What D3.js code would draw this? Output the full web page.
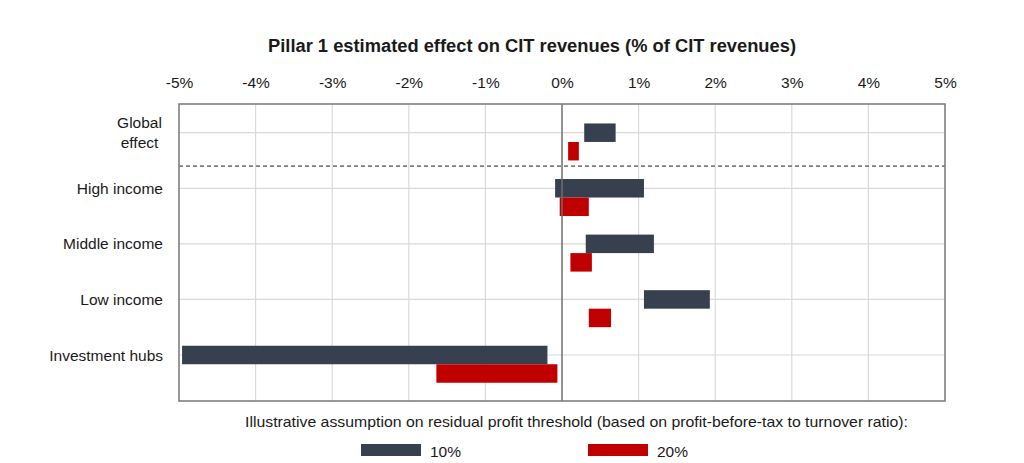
<!DOCTYPE html>
<html><head><meta charset="utf-8">
<script src="https://cdn.jsdelivr.net/npm/d3@7"></script>
<style>body{margin:0;background:#fff}svg{display:block}text{font-family:"Liberation Sans",Arial,sans-serif;fill:#1a1a1a}</style>
</head><body><svg id="c" width="1024" height="463"></svg>
<script>
const categories = ["Global effect","High income","Middle income","Low income","Investment hubs"];
const series10Start = [0.29, -0.09, 0.31, 1.07, -4.96];
const series10End   = [0.70, 1.07, 1.20, 1.93, -0.19];
const series20Start = [0.08, -0.03, 0.11, 0.35, -1.64];
const series20End   = [0.22, 0.35, 0.39, 0.64, -0.06];
const tickValues = [-5,-4,-3,-2,-1,0,1,2,3,4,5];
const seriesNames = ["10%","20%"];
const colors = ["#36404F","#C00000"];
const title = "Pillar 1 estimated effect on CIT revenues (% of CIT revenues)";
const legendTitle = "Illustrative  assumption on residual profit threshold (based on profit-before-tax to turnover ratio):";

const svg = d3.select("#c");
const L=179, R=945, T=104, B=401;
const x = d3.scaleLinear().domain([-5,5]).range([L,R]);
const y = d3.scalePoint().domain(categories).range([132.7,355]);
const bh = 18.5;

// grid
svg.append("g").selectAll("line").data(tickValues.filter(v=>v>-5&&v<5&&v!==0)).join("line")
  .attr("x1",d=>x(d)).attr("x2",d=>x(d)).attr("y1",T).attr("y2",B)
  .attr("stroke","#d9d9d9").attr("stroke-width",1.2);
svg.append("g").selectAll("line").data(categories).join("line")
  .attr("x1",L).attr("x2",R).attr("y1",d=>y(d)).attr("y2",d=>y(d))
  .attr("stroke","#d9d9d9").attr("stroke-width",1.2);

// top axis labels
const ax = d3.axisTop(x).tickValues(tickValues).tickSize(0).tickPadding(0).tickFormat(d=>d+"%");
const axg = svg.append("g").attr("transform",`translate(0,88)`).call(ax);
axg.select(".domain").remove();
axg.selectAll("text").attr("font-size",15.5).attr("font-family","Liberation Sans, Arial, sans-serif").attr("fill","#1a1a1a").attr("dy",0);

// bars
const d10 = categories.map((c,i)=>({c,a:series10Start[i],b:series10End[i]}));
const d20 = categories.map((c,i)=>({c,a:series20Start[i],b:series20End[i]}));
svg.append("g").selectAll("rect").data(d10).join("rect")
  .attr("x",d=>x(Math.min(d.a,d.b))).attr("width",d=>Math.abs(x(d.b)-x(d.a)))
  .attr("y",d=>y(d.c)-bh/2).attr("height",bh).attr("fill",colors[0]);
svg.append("g").selectAll("rect").data(d20).join("rect")
  .attr("x",d=>x(Math.min(d.a,d.b))).attr("width",d=>Math.abs(x(d.b)-x(d.a)))
  .attr("y",d=>y(d.c)+bh/2).attr("height",bh).attr("fill",colors[1]);

// zero line
svg.append("line").attr("x1",x(0)).attr("x2",x(0)).attr("y1",T).attr("y2",B)
  .attr("stroke","#6e6e6e").attr("stroke-width",1.5);
// dashed separator
const dashY = y(categories[0]) + y.step()*0.6;
svg.append("line").attr("x1",L).attr("x2",R).attr("y1",dashY).attr("y2",dashY)
  .attr("stroke","#7f7f7f").attr("stroke-width",1.8).attr("stroke-dasharray","4,3");
// border
svg.append("rect").attr("x",L).attr("y",T).attr("width",R-L).attr("height",B-T)
  .attr("fill","none").attr("stroke","#7f7f7f").attr("stroke-width",1.6);

// category labels
const lab = svg.append("g");
categories.forEach(c=>{
  if(c==="Global effect"){
    lab.append("text").attr("x",139.5).attr("y",y(c)-10+5.5).attr("text-anchor","middle").attr("font-size",15.5).text("Global");
    lab.append("text").attr("x",139.5).attr("y",y(c)+10+5.5).attr("text-anchor","middle").attr("font-size",15.5).text("effect");
  } else {
    lab.append("text").attr("x",163).attr("y",y(c)+5.5).attr("text-anchor","end").attr("font-size",15.5).text(c);
  }
});

// title
svg.append("text").attr("x",268).attr("y",51.5).attr("font-size",17.5).attr("font-weight","bold")
  .attr("textLength",528).attr("lengthAdjust","spacingAndGlyphs").text(title);

// legend
svg.append("text").attr("x",245).attr("y",426.5).attr("font-size",15)
  .attr("textLength",663).attr("lengthAdjust","spacingAndGlyphs").text(legendTitle);
const lx = [361,588];
seriesNames.forEach((n,i)=>{
  svg.append("rect").attr("x",lx[i]).attr("y",444).attr("width",60).attr("height",12).attr("fill",colors[i]);
  svg.append("text").attr("x",lx[i]+69).attr("y",456.5).attr("font-size",15.5).text(n);
});
</script></body></html>
